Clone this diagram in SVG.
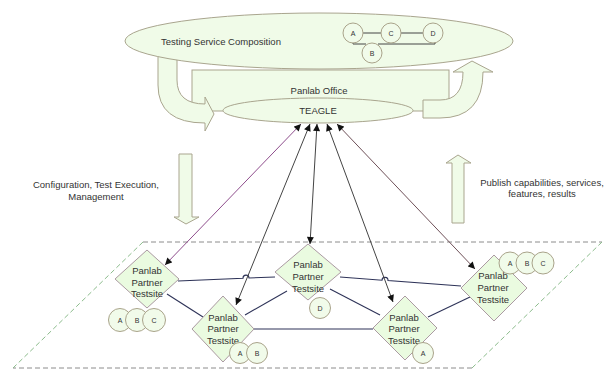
<svg xmlns="http://www.w3.org/2000/svg" width="610" height="371" viewBox="0 0 610 371">
<defs>
<style>
text{font-family:"Liberation Sans",Arial,sans-serif;font-size:9.5px;fill:#333;text-anchor:middle}
.sm{font-size:7px}
.fill{fill:#f0fbe8;stroke:#a9a58e;stroke-width:1}
.dia{fill:#eafbe0;stroke:#ab9aa2;stroke-width:1}
.circ{fill:#f1fbea;stroke:#a9a38a;stroke-width:1}
.link{fill:none;stroke:#2e3358;stroke-width:1.1}
.arr{fill:none;stroke:#444;stroke-width:1;marker-start:url(#ah);marker-end:url(#ah)}
</style>
<marker id="ah" viewBox="0 0 10 10" refX="10" refY="5" markerWidth="8" markerHeight="7" orient="auto-start-reverse" markerUnits="userSpaceOnUse">
<path d="M0,0 L10,5 L0,10 z" fill="#111"/>
</marker>
</defs>
<rect width="610" height="371" fill="#fff"/>

<g id="testbed-area">
<path d="M143,242 L602,242 M472,368 L13,368" fill="none" stroke="#8c8c8c" stroke-width="1" stroke-dasharray="5,3"/>
<path d="M602,242 L472,368 M13,368 L143,242" fill="none" stroke="#8cbc8c" stroke-width="1" stroke-dasharray="5,3"/>
</g>

<g id="panlab-office">
<rect class="fill" x="192" y="70" width="257" height="41"/>
<text x="319" y="93.5">Panlab Office</text>
</g>

<g id="teagle">
<ellipse class="fill" cx="318" cy="110.5" rx="95" ry="12.5"/>
<text x="318" y="114">TEAGLE</text>
</g>

<g id="arrow-left-curved">
<path class="fill" d="M158,50 L158,85 Q158,123 205,123 L205,131 L214,114 L205,97 L205,104 Q177,104 177,80 L177,50 Z"/>
</g>
<g id="arrow-right-curved">
<path class="fill" d="M423,100 L440,100 Q463,100 463,72 L453,72 L472,61 L493,72 L483,72 Q483,118 440,118 L423,118 Z"/>
</g>

<g id="testing-service-composition">
<ellipse class="fill" cx="319" cy="41" rx="194" ry="28"/>
<text x="221" y="45">Testing Service Composition</text>
<path d="M363,33 H381 M401,33 H423 M353,42 V44 H366 M378,44 H435 V42" fill="none" stroke="#444" stroke-width="1"/>
<circle class="circ" cx="353" cy="33" r="10"/><text class="sm" x="353" y="35.5">A</text>
<circle class="circ" cx="391" cy="33" r="10"/><text class="sm" x="391" y="35.5">C</text>
<circle class="circ" cx="433" cy="33" r="10"/><text class="sm" x="433" y="35.5">D</text>
<circle class="circ" cx="372" cy="53" r="10"/><text class="sm" x="372" y="55.5">B</text>
</g>

<g id="arrow-down">
<path class="fill" d="M179,154 H192 V217 H199 L186,224 L174,217 H179 Z"/>
<text x="96" y="187.5">Configuration, Test Execution,</text>
<text x="96" y="199.5">Management</text>
</g>
<g id="arrow-up">
<path class="fill" d="M452,223 V163 H446 L458,155 L471,163 H464 V223 Z"/>
<text x="542" y="185.5">Publish capabilities, services,</text>
<text x="542" y="196.5">features, results</text>
</g>

<g id="connectors">
<path class="link" d="M178,281 L243,278.2 A3,3 0 0 1 249,278 L275,277"/>
<path class="link" d="M167,294 L203,317"/>
<path class="link" d="M245,315 L287,291"/>
<path class="link" d="M254,329 L373,329"/>
<path class="link" d="M340,277 L382,280.2 A3,3 0 0 1 388,280.6 L461,286"/>
<path class="link" d="M330,289 L380,315"/>
<path class="link" d="M428,317 L470,297"/>
<path class="arr" style="stroke:#8e4d8c" d="M301,124 L165,265"/>
<path class="arr" d="M310,124 L236,305"/>
<path class="arr" d="M317,124 L310,244"/>
<path class="arr" d="M327,124 L393,302"/>
<path class="arr" style="stroke:#6e5058" d="M337,124 L475,269"/>
</g>

<g id="testsite-1">
<polygon class="dia" points="147,250 179,279 147,308 115,279"/>
<text x="147" y="273.5">Panlab</text><text x="147" y="285.5">Partner</text><text x="147" y="297">Testsite</text>
<circle class="circ" cx="120" cy="320" r="11.5"/><text class="sm" x="120" y="322.5">A</text>
<circle class="circ" cx="137" cy="320" r="11.5"/><text class="sm" x="137" y="322.5">B</text>
<circle class="circ" cx="154" cy="320" r="11.5"/><text class="sm" x="154" y="322.5">C</text>
</g>

<g id="testsite-2">
<polygon class="dia" points="223,296 254,329 223,362 192,329"/>
<text x="223" y="320.5">Panlab</text><text x="223" y="331.5">Partner</text><text x="223" y="343.5">Testsite</text>
<circle class="circ" cx="240" cy="353" r="10.5"/><text class="sm" x="240" y="355.5">A</text>
<circle class="circ" cx="257" cy="353" r="10.5"/><text class="sm" x="257" y="355.5">B</text>
</g>

<g id="testsite-3">
<polygon class="dia" points="308,244 341,272 308,300 275,272"/>
<text x="308" y="267.5">Panlab</text><text x="308" y="279.5">Partner</text><text x="308" y="291.5">Testsite</text>
<circle class="circ" cx="320" cy="308" r="10.5"/><text class="sm" x="320" y="310.5">D</text>
</g>

<g id="testsite-4">
<polygon class="dia" points="405,296 437,328 405,360 373,328"/>
<text x="404" y="320.5">Panlab</text><text x="404" y="331.5">Partner</text><text x="404" y="343.5">Testsite</text>
<circle class="circ" cx="423" cy="353" r="10.5"/><text class="sm" x="423" y="355.5">A</text>
</g>

<g id="testsite-5">
<polygon class="dia" points="494,255 527,288 494,321 461,288"/>
<text x="493" y="278.5">Panlab</text><text x="493" y="290.5">Partner</text><text x="493" y="302.5">Testsite</text>
<circle class="circ" cx="510" cy="263" r="11"/><text class="sm" x="510" y="265.5">A</text>
<circle class="circ" cx="527" cy="263" r="11"/><text class="sm" x="527" y="265.5">B</text>
<circle class="circ" cx="543" cy="263" r="11"/><text class="sm" x="543" y="265.5">C</text>
</g>
</svg>
